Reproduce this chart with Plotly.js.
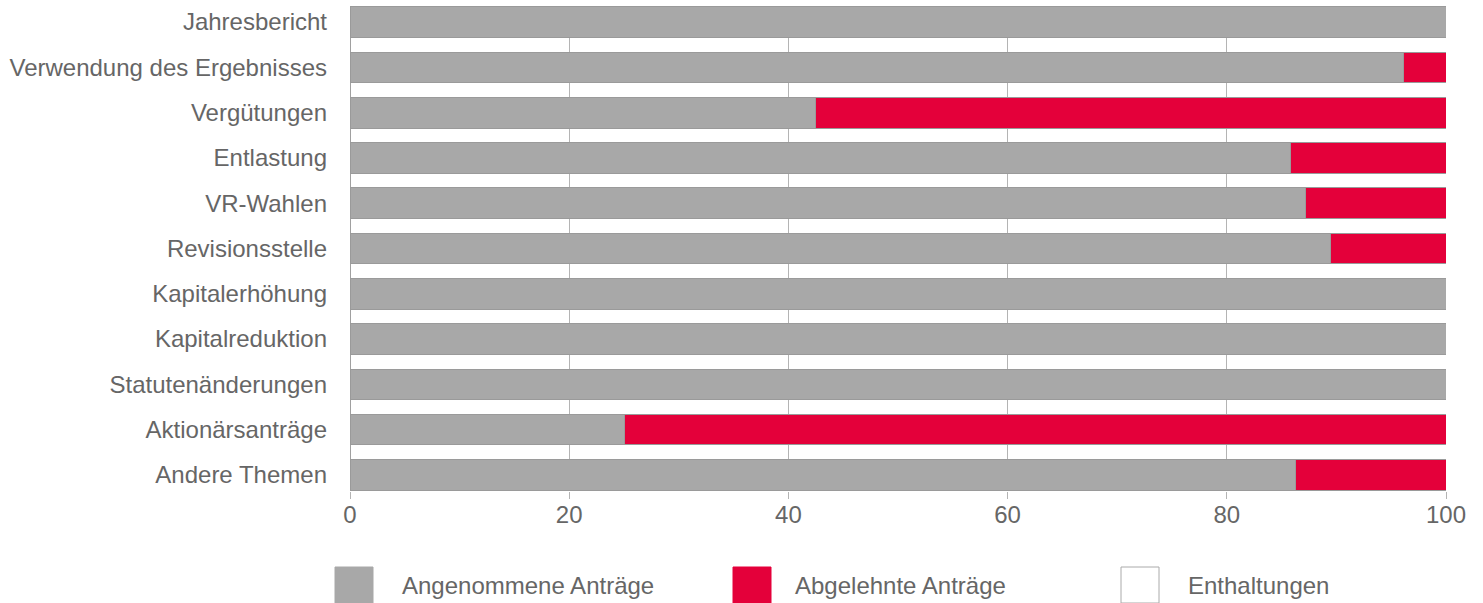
<!DOCTYPE html>
<html>
<head>
<meta charset="utf-8">
<script src="https://cdn.plot.ly/plotly-3.0.1.min.js"></script>
<style>html,body{margin:0;padding:0;background:#fff;}#chart{width:1483px;height:603px;}</style>
</head>
<body>
<div id="chart"></div>
<script>
const categories = ["Jahresbericht","Verwendung des Ergebnisses","Vergütungen","Entlastung","VR-Wahlen","Revisionsstelle","Kapitalerhöhung","Kapitalreduktion","Statutenänderungen","Aktionärsanträge","Andere Themen"];
const angenommen = [100, 96.1, 42.5, 85.8, 87.2, 89.5, 100, 100, 100, 25.0, 86.3];
const abgelehnt  = [0, 3.9, 57.5, 14.2, 12.8, 10.5, 0, 0, 0, 75.0, 13.7];
const enthaltungen = [0, 0, 0, 0, 0, 0, 0, 0, 0, 0, 0];
const seriesNames = ["Angenommene Anträge","Abgelehnte Anträge","Enthaltungen"];
const seriesColors = ["#a8a8a8","#e4003a","#ffffff"];
const xTicks = [0,20,40,60,80,100];

const font = "Liberation Sans, Arial, sans-serif";
const traces = [angenommen, abgelehnt, enthaltungen].map((vals, i) => ({
  type: "bar", orientation: "h", name: seriesNames[i],
  y: categories, x: vals,
  marker: {color: seriesColors[i], line: {color: "#9a9a9a", width: 1}},
  width: 0.678, showlegend: false, hoverinfo: "x+y"
}));

// legend drawn as shapes + annotations
const legX = [335, 733, 1121];
const legTextX = [400, 793, 1186];
const W = 1483, H = 603;
const shapes = [], annotations = [];
seriesNames.forEach((n, i) => {
  shapes.push({type: "rect", xref: "paper", yref: "paper",
    x0: (legX[i] - 350) / (1446 - 350), x1: (legX[i] + 38 - 350) / (1446 - 350),
    y0: -(567 + 36 - 491) / 485, y1: -(567 - 491) / 485,
    fillcolor: seriesColors[i], line: {color: i === 2 ? "#aaaaaa" : seriesColors[i], width: 1}});
  annotations.push({xref: "paper", yref: "paper", x: (legTextX[i] - 350) / (1446 - 350),
    y: -(585 - 491) / 485, xanchor: "left", yanchor: "middle", showarrow: false,
    text: n, font: {family: font, size: 24, color: "#666666"}});
});

const layout = {
  width: W, height: H,
  margin: {l: 350, r: 37, t: 6, b: 112},
  barmode: "stack", bargap: 0.322,
  paper_bgcolor: "#ffffff", plot_bgcolor: "#ffffff",
  font: {family: font, size: 24, color: "#666666"},
  xaxis: {range: [0, 100], tickvals: xTicks, ticktext: xTicks.map(String),
    showgrid: true, gridcolor: "#b4b4b4", gridwidth: 1,
    zeroline: true, zerolinecolor: "#a0a0a0", zerolinewidth: 1,
    ticks: "outside", ticklen: 7, tickcolor: "#b4b4b4", ticklabelstandoff: -5,
    tickfont: {family: font, size: 24, color: "#666666"}, showline: false, fixedrange: true},
  yaxis: {type: "category", categoryorder: "array", categoryarray: categories,
    range: [10.355, -0.355], showgrid: false, zeroline: false, showline: false,
    ticks: "", ticklabelstandoff: 22,
    tickfont: {family: font, size: 24, color: "#666666"}, fixedrange: true},
  shapes: shapes, annotations: annotations, showlegend: false
};
Plotly.newPlot("chart", traces, layout, {displayModeBar: false, staticPlot: true});
</script>
</body>
</html>
